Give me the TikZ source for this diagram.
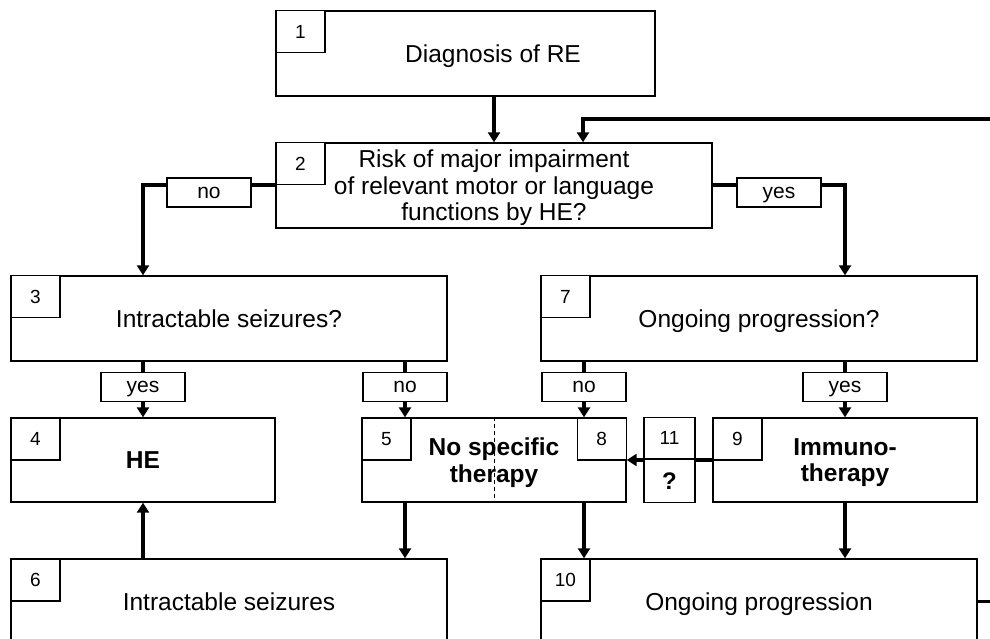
\documentclass[tikz,border=0pt]{standalone}
\usepackage{fontspec}
\setmainfont{Liberation Sans}
\usetikzlibrary{arrows.meta,positioning}
\tikzset{
  stage/.style={draw, line width=0.7pt, fill=white, minimum height=42.5pt, inner sep=0pt, align=center, text depth=0pt, font=\fontsize{12.25}{13.25}\selectfont},
  numbox/.style={draw, line width=0.6pt, fill=white, minimum width=24.5pt, minimum height=21pt, inner sep=0pt, anchor=north west, font=\fontsize{9.5}{10}\selectfont},
  answer/.style={draw, line width=0.6pt, fill=white, minimum width=42pt, minimum height=14.5pt, inner sep=0pt, text depth=0pt, font=\fontsize{10.5}{12}\selectfont},
  qpart/.style={draw, line width=0.6pt, fill=white, minimum width=25.5pt, inner sep=0pt, text depth=0pt, font=\fontsize{9.5}{10}\selectfont},
  bar/.style={line width=2pt},
  flow/.style={line width=2pt, -{Triangle[length=5pt,width=6pt]}},
}
\begin{document}
\begin{tikzpicture}[x=0.5pt, y=0.5pt]
            \useasboundingbox (0,0) rectangle (990,638);

            % Decision boxes
            \node[stage, minimum width=189.5pt] (diag) at (465.5,584.5) {\hspace*{27.5pt}Diagnosis of RE};
            \node[stage, minimum width=218pt] (risk) at (494,452.5) {Risk of major impairment\\of relevant motor or language\\functions by HE?};
            \node[stage, minimum width=218pt] (seizq) at (229,319.5) {Intractable seizures?};
            \node[stage, minimum width=218pt] (progq) at (759,319.5) {Ongoing progression?};

            % Therapy boxes
            \node[stage, minimum width=132pt, minimum height=42pt] (he) at (143,178) {\bfseries HE};
            \node[stage, minimum width=132pt, minimum height=42pt] (nospec) at (494,178) {\bfseries No specific\\\bfseries therapy};
            \node[stage, minimum width=132pt, minimum height=42pt] (immuno) at (845,178) {\bfseries Immuno-\\\bfseries therapy};

            % Outcome boxes
            \node[stage, minimum width=218pt] (seiz) at (229,36.5) {Intractable seizures};
            \node[stage, minimum width=218pt] (prog) at (759,36.5) {Ongoing progression};

            \draw[dashed, line width=0.4pt, dash pattern=on 2pt off 1.5pt] (nospec.north) -- (nospec.south);

            % Box numbers
            \node[numbox] (n1) at (diag.north west) {1};
            \node[numbox] (n2) at (risk.north west) {2};
            \node[numbox] (n3) at (seizq.north west) {3};
            \node[numbox] (n7) at (progq.north west) {7};
            \node[numbox] (n4) at (he.north west) {4};
            \node[numbox] (n5) at (nospec.north west) {5};
            \node[numbox, anchor=north east] (n8) at (nospec.north east) {8};
            \node[numbox] (n9) at (immuno.north west) {9};
            \node[numbox] (n6) at (seiz.north west) {6};
            \node[numbox] (n10) at (prog.north west) {10};

            % Answers
            \node[answer] (no2) at (209,445.5) {no};
            \node[answer] (yes2) at (779,445.5) {yes};
            \node[answer] (yes3) at (143,251) {yes};
            \node[answer] (no3) at (405,251) {no};
            \node[answer] (no7) at (584,251) {no};
            \node[answer] (yes7) at (845,251) {yes};

            % Edges
            \draw[flow] (diag.south -| risk.north) -- (risk.north);
            \draw[bar] (risk.west) -- (no2.east |- risk.west);
            \draw[flow] (no2.west |- risk.west) -| (seizq.north -| yes3);
            \draw[bar] (risk.east) -- (yes2.west |- risk.east);
            \draw[flow] (yes2.east |- risk.east) -| (progq.north -| yes7);

            \draw[bar] (seizq.south -| yes3) -- (yes3.north);
            \draw[flow] (yes3.south) -- (he.north -| yes3);
            \draw[bar] (seizq.south -| no3) -- (no3.north);
            \draw[flow] (no3.south) -- (nospec.north -| no3);
            \draw[bar] (progq.south -| no7) -- (no7.north);
            \draw[flow] (no7.south) -- (nospec.north -| no7);
            \draw[bar] (progq.south -| yes7) -- (yes7.north);
            \draw[flow] (yes7.south) -- (immuno.north -| yes7);

            \draw[flow] (seiz.north -| he) -- (he.south);
            \draw[flow] (nospec.south -| no3) -- (seiz.north -| no3);
            \draw[flow] (nospec.south -| no7) -- (prog.north -| no7);
            \draw[flow] (immuno.south) -- (prog.north -| immuno);

            \draw[flow, line width=1.6pt] (immuno.west) -- (nospec.east);

            % Uncertain switch
            \node[qpart, minimum height=20.5pt, anchor=south] (q11) at (669.5,179) {11};
            \node[qpart, minimum height=21.5pt, below=0pt of q11] (qmark) {\fontsize{12}{12}\selectfont\bfseries ?};

            % Loop back
            \coordinate (loopturn) at (1010,519);
            \draw[flow, line width=1.8pt] (prog.east) -| (loopturn) -| ([xshift=44.5pt]risk.north);
        \end{tikzpicture}
\end{document}
